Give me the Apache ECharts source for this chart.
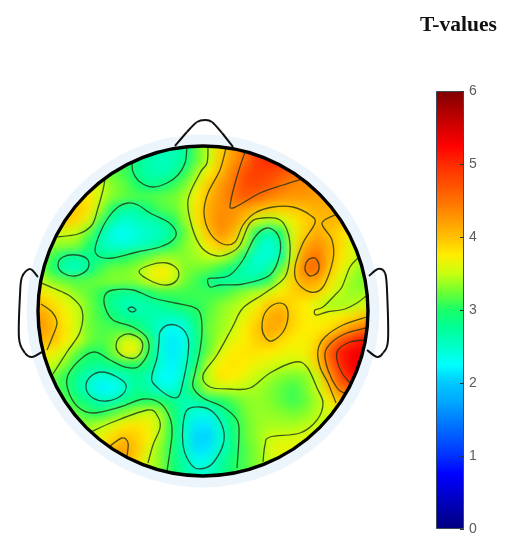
<!DOCTYPE html>
<html>
<head>
<meta charset="utf-8">
<style>html,body{margin:0;padding:0;background:#fff}#c{width:514px;height:550px}</style>
<script src="https://cdn.jsdelivr.net/npm/echarts@6/dist/echarts.min.js"></script>
</head>
<body>
<div id="c"></div>
<script>
// T-values on a regular scalp grid (rows top to bottom, columns left to right)
const tValues = [
[3.1,3.1,3.1,3.1,3.1,3.1,3.1,3.1,3.1,2.8,2.7,2.6,2.6,2.75,3.2,3.5,3.9,4.2,4.5,4.8,4.9,4.9,4.9,4.8,4.5,4.2,3.9,3.7,3.6,3.6],
[3.1,3.1,3.1,3.1,3.1,3.1,3.1,3.1,3.1,2.8,2.7,2.6,2.6,2.75,3.2,3.5,3.9,4.2,4.5,4.8,4.9,4.9,4.9,4.8,4.5,4.2,3.9,3.7,3.6,3.6],
[3.2,3.2,3.2,3.2,3.2,3.2,3.2,3.1,3.1,2.8,2.65,2.55,2.6,2.75,3.2,3.5,3.95,4.25,4.5,4.9,5.0,4.95,4.9,4.8,4.5,4.2,3.9,3.7,3.6,3.6],
[3.3,3.3,3.3,3.3,3.3,3.3,3.3,3.2,3.1,2.8,2.65,2.6,2.7,3.05,3.4,3.75,4.05,4.4,4.75,4.85,4.8,4.7,4.55,4.4,4.2,4.0,3.9,3.8,3.7,3.7],
[3.6,3.6,3.6,3.6,3.7,3.7,3.55,3.3,3.2,3.0,2.8,2.85,3.05,3.25,3.6,3.95,4.25,4.45,4.75,4.8,4.7,4.5,4.35,4.35,4.2,4.1,4.0,3.9,3.8,3.8],
[3.7,3.8,3.8,3.8,3.85,3.8,3.5,3.3,3.2,3.15,3.15,3.2,3.25,3.4,3.75,4.05,4.3,4.5,4.65,4.55,4.4,4.3,4.25,4.25,4.2,4.1,4.05,4.0,3.9,3.9],
[3.8,3.85,3.9,3.95,3.95,3.8,3.4,2.95,2.7,2.7,2.95,3.15,3.2,3.4,3.8,4.15,4.3,4.3,4.2,4.05,3.95,3.9,3.95,4.0,4.1,4.1,4.1,4.05,4.0,4.0],
[3.8,3.85,3.9,3.95,3.85,3.6,3.1,2.65,2.45,2.55,2.6,2.7,3.0,3.35,3.8,4.15,4.35,4.25,4.0,3.55,3.4,3.5,3.7,3.9,4.0,4.05,4.05,4.0,3.95,3.95],
[3.6,3.6,3.55,3.55,3.5,3.2,2.7,2.35,2.3,2.4,2.5,2.55,2.75,3.2,3.6,4.0,4.3,4.1,3.5,2.95,2.6,3.0,3.6,3.9,4.15,4.0,3.85,3.75,3.7,3.7],
[3.4,3.4,3.35,3.35,3.3,3.0,2.6,2.45,2.4,2.5,2.6,2.75,3.05,3.3,3.45,3.8,4.0,3.85,3.35,2.65,2.4,2.7,3.6,4.1,4.3,4.1,3.85,3.55,3.4,3.4],
[3.3,3.3,3.1,2.8,2.7,2.8,2.8,2.85,3.0,3.1,3.2,3.35,3.35,3.3,3.4,3.5,3.5,3.3,2.85,2.45,2.45,2.65,3.55,4.3,4.5,4.1,3.8,3.6,3.4,3.4],
[3.3,3.3,3.0,2.6,2.55,2.75,3.1,3.25,3.25,3.35,3.6,3.75,3.6,3.3,3.25,3.2,3.05,2.85,2.6,2.5,2.65,3.2,3.85,4.45,4.55,4.0,3.7,3.45,3.3,3.3],
[3.55,3.5,3.3,3.2,3.15,3.2,3.25,3.3,3.3,3.35,3.55,3.7,3.55,3.25,3.1,2.85,2.7,2.7,2.7,2.75,3.05,3.5,3.9,4.2,4.15,3.85,3.55,3.35,3.25,3.25],
[3.8,3.8,3.65,3.5,3.3,3.2,3.05,2.85,2.75,2.8,2.95,3.1,3.1,3.1,3.1,3.1,3.1,3.2,3.35,3.45,3.6,3.75,3.9,3.95,3.9,3.65,3.45,3.35,3.4,3.4],
[4.0,4.0,3.85,3.65,3.5,3.25,3.05,2.75,2.6,2.6,2.65,2.75,2.9,3.05,3.05,3.15,3.3,3.4,3.5,3.7,3.95,4.0,3.85,3.75,3.6,3.4,3.4,3.45,3.55,3.55],
[4.2,4.2,4.0,3.75,3.55,3.25,3.1,2.95,2.75,2.7,2.65,2.6,2.55,2.65,2.95,3.2,3.35,3.45,3.65,3.85,4.1,4.2,3.9,3.75,3.7,3.7,3.75,3.85,4.0,4.1],
[4.3,4.25,4.05,3.8,3.55,3.25,3.15,3.15,3.1,3.0,2.7,2.45,2.25,2.4,2.85,3.25,3.35,3.5,3.75,3.95,4.15,4.1,3.85,3.75,3.75,3.8,4.05,4.3,4.5,4.6],
[4.1,4.05,4.0,3.75,3.55,3.25,3.15,3.25,3.6,3.55,3.05,2.4,2.15,2.35,2.8,3.2,3.45,3.65,3.75,3.9,4.0,3.85,3.75,3.7,3.85,4.3,4.7,5.0,5.2,5.25],
[3.8,3.8,3.7,3.5,3.2,3.0,3.0,3.25,3.7,3.65,3.0,2.4,2.15,2.4,2.85,3.25,3.6,3.75,3.8,3.8,3.75,3.7,3.65,3.7,3.95,4.6,5.1,5.3,5.35,5.35],
[3.5,3.5,3.5,3.3,3.0,2.85,2.8,2.9,3.0,3.0,2.85,2.4,2.2,2.5,2.95,3.5,3.75,3.8,3.75,3.65,3.6,3.5,3.5,3.5,3.9,4.45,5.0,5.3,5.35,5.35],
[3.3,3.3,3.25,3.05,2.8,2.55,2.4,2.45,2.6,2.75,2.6,2.3,2.25,2.55,3.2,3.5,3.8,3.75,3.65,3.5,3.4,3.3,3.25,3.3,3.5,4.2,4.8,5.15,5.2,5.2],
[3.2,3.2,3.2,3.05,2.75,2.45,2.2,2.25,2.5,2.8,2.65,2.4,2.4,2.75,3.1,3.45,3.5,3.5,3.45,3.4,3.3,3.2,3.1,3.25,3.5,3.95,4.5,4.6,4.6,4.6],
[3.2,3.2,3.25,3.2,3.0,2.8,2.55,2.6,2.8,2.95,3.0,3.0,2.8,2.6,2.7,2.85,3.0,3.15,3.3,3.35,3.3,3.2,3.1,3.2,3.4,3.7,4.0,4.0,4.0,4.0],
[3.3,3.3,3.3,3.3,3.2,3.05,3.0,3.15,3.3,3.45,3.55,3.4,2.95,2.6,2.4,2.4,2.7,3.0,3.25,3.35,3.35,3.3,3.25,3.3,3.45,3.55,3.6,3.6,3.6,3.6],
[3.3,3.3,3.3,3.3,3.3,3.35,3.45,3.6,3.75,3.8,3.7,3.45,3.0,2.5,2.15,2.15,2.5,2.9,3.2,3.35,3.4,3.4,3.4,3.45,3.5,3.5,3.5,3.5,3.5,3.5],
[3.4,3.4,3.4,3.4,3.4,3.5,3.65,3.85,4.0,3.9,3.75,3.4,3.0,2.45,2.05,2.05,2.45,2.85,3.2,3.35,3.5,3.55,3.55,3.6,3.6,3.6,3.6,3.6,3.6,3.6],
[3.5,3.5,3.5,3.5,3.5,3.6,3.8,4.05,4.2,3.95,3.6,3.3,2.95,2.5,2.1,2.15,2.5,2.85,3.15,3.3,3.55,3.65,3.65,3.65,3.65,3.65,3.65,3.65,3.65,3.65],
[3.6,3.6,3.6,3.6,3.6,3.7,3.9,4.2,4.2,3.85,3.5,3.3,2.95,2.65,2.3,2.4,2.7,2.95,3.15,3.3,3.5,3.6,3.6,3.6,3.6,3.6,3.6,3.6,3.6,3.6],
[3.6,3.6,3.6,3.6,3.6,3.7,3.9,4.2,4.2,3.8,3.45,3.3,3.0,2.7,2.5,2.5,2.75,3.0,3.15,3.3,3.5,3.6,3.6,3.6,3.6,3.6,3.6,3.6,3.6,3.6],
[3.6,3.6,3.6,3.6,3.6,3.7,3.9,4.2,4.2,3.8,3.45,3.3,3.0,2.7,2.5,2.5,2.75,3.0,3.15,3.3,3.5,3.6,3.6,3.6,3.6,3.6,3.6,3.6,3.6,3.6]
];
const colorbarTicks = [0,1,2,3,4,5,6];
const colorbarLabel = 'T-values';
const jetColors = ['#00007f','#0000a8','#0000d4','#0000ff','#0030ff','#0058ff','#007fff','#00a8ff','#00c8ff','#00ffff','#00ffc8','#00ff98','#18ff68','#70ff32','#c8ff10','#ffee00','#ffc000','#ff9800','#ff7000','#ff4c00','#ff2a00','#ff0000','#d50000','#aa0000','#7f0000'];
const headCentre = [203,311];
const nose = [[175,146],[187,132],[197,122],[205,120],[212,122],[222,133],[233,147]];
const leftEar = [[38,277],[30,269],[22,277],[20,295],[19,338],[25,353],[32,357],[42,352]];
const rightEar = [[369,276],[378,269],[385,273],[387,290],[388,340],[383,353],[377,357],[367,350]];
// iso-T lines traced on the map
const openContours = [
[[132,162],[133,172],[140,182],[153,187],[167,183],[178,175],[185,163],[187,147]],
[[105,179],[103,190],[98,208],[92,225],[78,234],[56,237]],
[[39,282],[53,288],[70,296],[82,310],[80,332],[67,352],[53,374]],
[[41,304],[52,312],[57,323],[52,338],[47,350]],
[[167,471],[172,435],[170,418],[160,403],[143,399],[120,407],[93,413],[78,407],[68,390],[68,375],[82,358],[95,352],[110,360],[125,367],[138,367],[148,353],[147,338],[133,327],[113,320],[105,307],[105,295],[113,290],[133,290],[153,298],[175,303],[193,307],[200,313],[202,330],[200,350],[195,373],[193,387],[203,398],[223,407],[237,420],[239,435],[237,468]],
[[91,432],[113,422],[148,410],[158,417],[160,428],[153,445],[148,463]],
[[110,446],[122,438],[128,443],[127,456]],
[[208,147],[207,163],[200,173],[188,200],[192,227],[202,248],[217,256],[230,253],[240,245],[250,223],[263,218],[280,220],[288,233],[290,253],[285,277],[265,293],[243,308],[232,328],[217,355],[203,375],[210,387],[230,389],[250,388],[270,373],[295,362],[307,367],[317,388],[323,403],[317,420],[300,433],[270,437],[265,445],[263,462]],
[[226,148],[220,170],[208,193],[204,213],[210,233],[223,244],[235,242],[243,225],[255,213],[273,207],[293,207],[310,215],[315,223],[303,243],[295,267],[297,282],[310,292],[323,287],[333,260],[332,240],[322,223],[337,214]],
[[245,152],[238,173],[231,200],[233,208],[260,193],[283,185],[302,179]],
[[358,258],[350,267],[342,287],[335,295],[323,307],[315,310],[316,315],[327,312],[345,309],[357,303],[366,296]],
[[367,317],[343,325],[325,337],[318,350],[320,367],[328,383],[336,403]],
[[366,328],[347,333],[332,342],[325,353],[328,370],[337,388],[344,393]],
[[365,340],[350,342],[338,350],[337,360],[342,373],[350,383]]
];
const closedContours = [
[[128,203],[118,207],[108,218],[100,233],[95,250],[100,257],[113,258],[137,252],[160,247],[173,240],[176,232],[168,222],[150,213],[138,205]],
[[58,265],[63,257],[77,255],[88,260],[87,270],[75,276],[63,273]],
[[139,272],[150,265],[167,263],[178,270],[177,280],[167,285],[153,282]],
[[128,309],[132,307],[136,310],[132,312]],
[[116,345],[120,337],[130,334],[141,340],[142,350],[135,358],[125,357],[118,352]],
[[86,388],[90,377],[102,372],[117,377],[126,385],[122,395],[107,401],[93,398]],
[[160,332],[168,325],[180,327],[188,338],[188,355],[183,382],[178,397],[167,395],[153,383],[152,375],[157,358],[159,342]],
[[183,425],[183,445],[187,458],[195,468],[205,468],[213,463],[223,445],[223,428],[213,412],[200,407],[187,410]],
[[208,279],[217,278],[230,275],[243,260],[255,237],[267,228],[278,235],[280,253],[270,275],[243,284],[220,285],[210,287]],
[[305,267],[308,260],[315,258],[319,265],[317,273],[310,276],[306,272]],
[[262,327],[265,313],[275,304],[285,305],[288,317],[283,332],[272,341],[265,337]]
];

const heatData = [];
tValues.forEach((row, r) => row.forEach((v, c) => heatData.push([c, r, v])));
const cols = tValues[0].map((_, i) => String(i));
const rows = tValues.map((_, i) => String(i));
const contourStyle = {stroke:'rgba(30,45,20,0.78)', lineWidth:1.3, fill:null};
const outlineStyle = {stroke:'#111', lineWidth:2, fill:null};

// one smooth curve segment per traced point, placed through the axes
function curveSeries(pts, isClosed, style) {
  const n = pts.length;
  const at = i => isClosed ? pts[(i + n) % n] : pts[Math.max(0, Math.min(n - 1, i))];
  return {
    type:'custom', coordinateSystem:'cartesian2d', xAxisIndex:1, yAxisIndex:1,
    data:pts, silent:true, zlevel:1, z:5, clip:false, animation:false,
    encode:{x:0, y:1},
    renderItem:(params, api) => {
      const i = params.dataIndex;
      if (!isClosed && i === n - 1) return null;
      const [p0, p1, p2, p3] = [i - 1, i, i + 1, i + 2].map(k => api.coord(at(k)));
      return {
        type:'bezierCurve',
        shape:{
          x1:p1[0], y1:p1[1], x2:p2[0], y2:p2[1],
          cpx1:p1[0] + (p2[0] - p0[0]) / 6, cpy1:p1[1] + (p2[1] - p0[1]) / 6,
          cpx2:p2[0] - (p3[0] - p1[0]) / 6, cpy2:p2[1] - (p3[1] - p1[1]) / 6
        },
        style:style
      };
    }
  };
}

const chart = echarts.init(document.getElementById('c'), null, {renderer:'canvas'});
const gradientStops = jetColors.map((color, i) => ({offset:i/(jetColors.length-1), color}));
chart.setOption({
  animation:false,
  backgroundColor:'transparent',
  title:{text:colorbarLabel, left:420, top:14, zlevel:1, padding:0,
    textStyle:{fontFamily:'"Liberation Serif",serif', fontSize:21.5, fontWeight:'bold', color:'#111'}},
  grid:[
    {left:23, top:131, width:360, height:360, show:false},
    {left:0, top:0, width:514, height:550, show:false},
    {left:436, top:91, width:28, height:438, show:false}
  ],
  xAxis:[
    {type:'category', gridIndex:0, data:cols, show:false},
    {type:'value', gridIndex:1, min:0, max:514, show:false},
    {type:'category', gridIndex:2, data:['T'], show:false, zlevel:1}
  ],
  yAxis:[
    {type:'category', gridIndex:0, data:rows, inverse:true, show:false},
    {type:'value', gridIndex:1, min:0, max:550, inverse:true, show:false},
    {type:'value', gridIndex:2, min:0, max:6, interval:1, position:'right', zlevel:1, z:10,
      axisLine:{show:false}, splitLine:{show:false},
      axisTick:{show:true, inside:true, length:4, lineStyle:{color:'#333', width:1}},
      axisLabel:{color:'#5c5c5c', fontFamily:'"Liberation Sans",Arial,sans-serif', fontSize:14, margin:5,
        formatter:v => colorbarTicks.includes(v) ? String(v) : ''}}
  ],
  visualMap:{show:false, seriesIndex:0, min:0, max:6, dimension:2, inRange:{color:jetColors}},
  series:[
    {type:'heatmap', xAxisIndex:0, yAxisIndex:0, data:heatData, silent:true, zlevel:0, progressive:0, animation:false},
    {type:'scatter', xAxisIndex:1, yAxisIndex:1, data:[headCentre], symbol:'circle', symbolSize:342, silent:true, zlevel:1, z:1, clip:false,
      itemStyle:{color:'rgba(0,0,0,0)', borderColor:'#e9f2fb', borderWidth:11}},
    {type:'scatter', xAxisIndex:1, yAxisIndex:1, data:[headCentre], symbol:'circle', symbolSize:330, silent:true, zlevel:1, z:8, clip:false,
      itemStyle:{color:'rgba(0,0,0,0)', borderColor:'#000', borderWidth:3.4, opacity:1}},
    ...openContours.map(c => curveSeries(c, false, contourStyle)),
    ...closedContours.map(c => curveSeries(c, true, contourStyle)),
    curveSeries(nose, false, outlineStyle),
    curveSeries(leftEar, false, outlineStyle),
    curveSeries(rightEar, false, outlineStyle),
    {type:'bar', xAxisIndex:2, yAxisIndex:2, data:[6], barWidth:'100%', silent:true, zlevel:1, z:2,
      itemStyle:{borderColor:'#3a4a5a', borderWidth:1, opacity:1,
        color:new echarts.graphic.LinearGradient(0,1,0,0,gradientStops)}}
  ]
});
const smoothLayer = chart.getDom().querySelector('canvas[data-zr-dom-id="zr_0"]');
if (smoothLayer) {
  smoothLayer.style.filter = 'blur(5px)';
  smoothLayer.style.clipPath = 'circle(165px at 203px 311px)';
}
</script>
</body>
</html>
